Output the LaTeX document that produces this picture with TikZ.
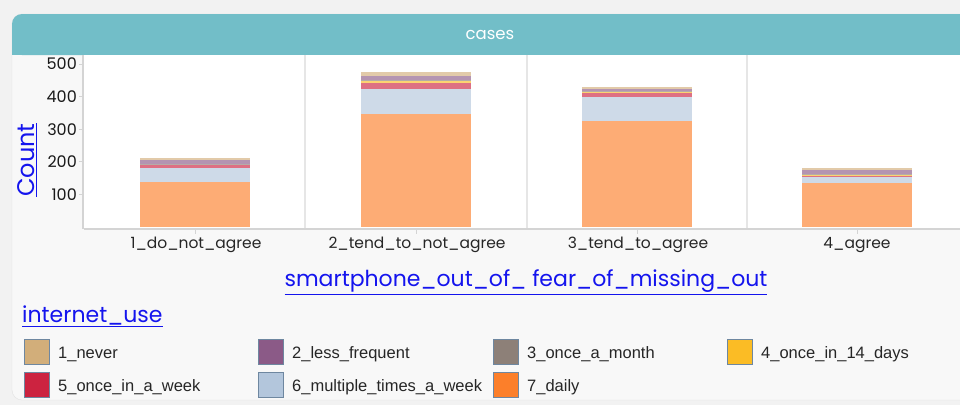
\documentclass[tikz,border=0pt]{standalone}
\usepackage{fontspec}
\setmainfont{Liberation Sans}
\newfontfamily\chartfont{Poppins}
\usetikzlibrary{positioning}

\definecolor{outerbg}{HTML}{F2F2F2}
\definecolor{panelbg}{HTML}{F8F8F8}
\definecolor{panelline}{HTML}{E2E2E2}
\definecolor{headteal}{HTML}{72BEC8}
\definecolor{axisgrey}{HTML}{D4D4D4}
\definecolor{sepgrey}{HTML}{E6E6E6}
\definecolor{linkblue}{HTML}{1414EE}
\definecolor{swatchedge}{HTML}{6E87A0}
\definecolor{neverc}{HTML}{D2AE7A}
\definecolor{lessc}{HTML}{8B5A87}
\definecolor{monthc}{HTML}{8D8078}
\definecolor{fortnightc}{HTML}{FBBC25}
\definecolor{weekc}{HTML}{CC2340}
\definecolor{multic}{HTML}{B3C6DC}
\definecolor{dailyc}{HTML}{FC7F2A}

\begin{document}
\begin{tikzpicture}[x=1pt, y=-1pt,
  ticklabel/.style={font=\chartfont\fontsize{16}{18}\selectfont, text=black!90},
  catlabel/.style={font=\chartfont\fontsize{15.5}{18}\selectfont, text=black!85},
  axistitle/.style={font=\chartfont\fontsize{22}{25}\selectfont, text=linkblue},
  swatch/.style={rectangle, draw=swatchedge, line width=1pt, minimum width=25pt, minimum height=25pt, inner sep=0pt},
  legtext/.style={font=\fontsize{16.5}{19}\selectfont, text=black!85, inner sep=0pt, yshift=-2.5pt},
  seg1/.style={fill=dailyc!65},
  seg2/.style={fill=multic!65},
  seg3/.style={fill=weekc!65},
  seg4/.style={fill=fortnightc!65},
  seg5/.style={fill=monthc!65},
  seg6/.style={fill=lessc!65},
  seg7/.style={fill=neverc!65}]

  % Frame
  \useasboundingbox (0,0) rectangle (960,405);
  \fill[outerbg] (0,0) rectangle (960,405);
  \filldraw[fill=panelbg, draw=panelline, rounded corners=10pt] (980,14) -- (12,14) -- (12,400) -- (980,400);
  \fill[headteal, rounded corners=10pt] (12,14) rectangle (980,55);
  \fill[headteal] (12,30) rectangle (980,55);
  \node (title) [font=\chartfont\fontsize{16.5}{19}\selectfont, text=white] at (490,35) {cases};

  % Plot area
  \fill[white] (84,55) rectangle (960,228);
  \foreach \sx in {305,527,747}
    \draw[sepgrey, line width=1.5pt] (\sx,55) -- (\sx,228);
  \draw[axisgrey, line width=1.5pt] (83,55) -- (83,229);
  \draw[axisgrey, line width=1.5pt] (84,229) -- (960,229);

  % Y axis
  \foreach \v in {100,200,300,400,500} {
    \draw[axisgrey, line width=1pt] (79,{227-0.326*\v}) -- (83,{227-0.326*\v});
    \node[ticklabel, anchor=east, inner sep=1pt] at (78,{227-0.326*\v}) {\v};
  }
  \node (ytitle) [axistitle, font=\chartfont\fontsize{24}{26}\selectfont, rotate=90] at (27,160) {\underline{Count}};

  % Bars
  \foreach \cx/\counts in {195/{138,43,9,2,2,13,5}, 416/{346,78,18,7,3,12,10},
                           637/{326,72,12,5,3,5,5}, 857/{134,20,3,2,3,12,6}} {
    \gdef\segbase{0}
    \foreach \n [count=\i] in \counts {
      \pgfmathsetmacro\segtop{\segbase+\n}
      \fill[seg\i] (\cx-55,{227-0.326*\segbase}) rectangle (\cx+55,{227-0.326*\segtop});
      \xdef\segbase{\segtop}
    }
    \draw[axisgrey, line width=1pt] (\cx,229) -- (\cx,234);
  }

  % X axis
  \node (cat1) [catlabel] at (196,245) {1\_do\_not\_agree};
  \node (cat2) [catlabel] at (417,245) {2\_tend\_to\_not\_agree};
  \node (cat3) [catlabel] at (638,245) {3\_tend\_to\_agree};
  \node (cat4) [catlabel] at (857,245) {4\_agree};
  \node (xtitle) [axistitle] at (526,282) {\underline{smartphone\_out\_of\_ fear\_of\_missing\_out}};

  % Legend
  \node (legtitle) [axistitle, anchor=west, inner sep=0pt] at (22,316) {\underline{internet\_use}};
  \node (never) [swatch, fill=neverc] at (37,352) {};
  \node (less) [swatch, fill=lessc] at (271,352) {};
  \node (month) [swatch, fill=monthc] at (506,352) {};
  \node (fortnight) [swatch, fill=fortnightc] at (740,352) {};
  \node (week) [swatch, fill=weekc] at (37,385) {};
  \node (multi) [swatch, fill=multic] at (271,385) {};
  \node (daily) [swatch, fill=dailyc] at (506,385) {};
  \node [legtext, right=8pt of never] {1\_never};
  \node [legtext, right=8pt of less] {2\_less\_frequent};
  \node [legtext, right=8pt of month] {3\_once\_a\_month};
  \node [legtext, right=8pt of fortnight] {4\_once\_in\_14\_days};
  \node [legtext, right=8pt of week] {5\_once\_in\_a\_week};
  \node [legtext, right=8pt of multi] {6\_multiple\_times\_a\_week};
  \node [legtext, right=8pt of daily] {7\_daily};
\end{tikzpicture}
\end{document}
